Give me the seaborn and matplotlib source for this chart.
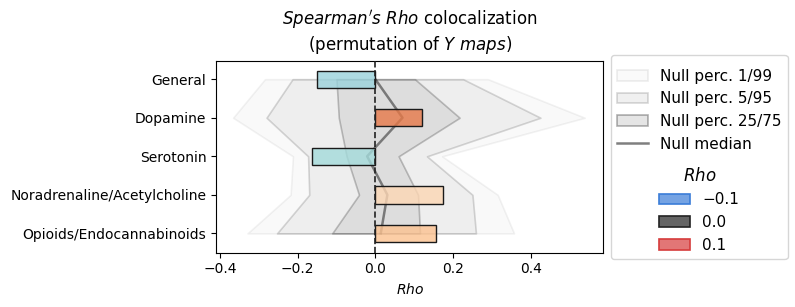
import matplotlib
matplotlib.use("Agg")
import matplotlib.pyplot as plt
from matplotlib.patches import Patch
from matplotlib.lines import Line2D
from matplotlib.legend import Legend
from matplotlib.offsetbox import VPacker, DrawingArea
import seaborn as sns
import numpy as np
import pandas as pd

categories = ["General", "Dopamine", "Serotonin",
              "Noradrenaline/Acetylcholine", "Opioids/Endocannabinoids"]
rho = [-0.150, 0.120, -0.163, 0.175, 0.156]
bar_colors = ["#9ad2db", "#e67848", "#a4dbdb", "#fdd7b4", "#fcc290"]

null_p01 = [-0.284, -0.366, -0.212, -0.218, -0.329]
null_p99 = [0.290, 0.539, 0.172, 0.315, 0.357]
null_p05 = [-0.213, -0.280, -0.173, -0.170, -0.253]
null_p95 = [0.226, 0.425, 0.133, 0.250, 0.259]
null_p25 = [-0.100, -0.094, -0.074, -0.042, -0.111]
null_p75 = [0.102, 0.217, 0.060, 0.110, 0.115]
null_median = [0.000, 0.070, -0.021, 0.031, 0.014]

legend_rho_values = [-0.1, 0.0, 0.1]
legend_rho_colors = ["#3b7dd8", "#222222", "#d63c3c"]

df = pd.DataFrame({"category": categories, "rho": rho})

fig = plt.figure(figsize=(7.95, 3.07), dpi=100)
ax = fig.add_axes([0.2717, 0.177, 0.759 - 0.2717, 0.801 - 0.177])

ypos = np.arange(len(categories))
bands = [
    (null_p01, null_p99, (0, 0, 0, 0.025), (0, 0, 0, 0.05)),
    (null_p05, null_p95, (0, 0, 0, 0.045), (0, 0, 0, 0.15)),
    (null_p25, null_p75, (0, 0, 0, 0.07), (0, 0, 0, 0.22)),
]
for lo, hi, fc, ec in bands:
    ax.fill_betweenx(ypos, lo, hi, facecolor=fc, edgecolor=ec, linewidth=1.2, zorder=1)
ax.plot(null_median, ypos, color=(0, 0, 0, 0.45), lw=1.8, zorder=2)

sns.barplot(data=df, x="rho", y="category", hue="category", palette=bar_colors,
            legend=False, orient="h", width=0.45, edgecolor="#1a1a1a",
            linewidth=1.0, saturation=1, ax=ax, zorder=3)
for p in ax.patches:
    fc = p.get_facecolor()
    p.set_alpha(None)
    p.set_facecolor((fc[0], fc[1], fc[2], 0.8))
    p.set_edgecolor("#1a1a1a")
    p.set_zorder(3)

ax.axvline(0, color="#222222", ls="--", lw=1.2, zorder=4)

ax.set_xlim(-0.41, 0.587)
ax.set_ylim(4.5, -0.47)
ax.set_xticks([-0.4, -0.2, 0.0, 0.2, 0.4])
ax.set_ylabel("")
ax.set_xlabel(r"$\it{Rho}$", fontsize=10)
ax.set_title("$\\it{Spearman's\\ Rho}$ colocalization\n(permutation of $\\it{Y\\ maps}$)",
             fontsize=12, pad=8)

h1 = [
    Patch(facecolor=(0, 0, 0, 0.02), edgecolor=(0, 0, 0, 0.07), lw=1.2),
    Patch(facecolor=(0, 0, 0, 0.06), edgecolor=(0, 0, 0, 0.15), lw=1.2),
    Patch(facecolor=(0, 0, 0, 0.10), edgecolor=(0, 0, 0, 0.30), lw=1.2),
    Line2D([], [], color=(0, 0, 0, 0.5), lw=1.8),
]
l1 = ["Null perc. 1/99", "Null perc. 5/95", "Null perc. 25/75", "Null median"]
leg1 = ax.legend(h1, l1, loc="center left", bbox_to_anchor=(1.0, 0.5), fontsize=11,
                 framealpha=0.8)

h2 = []
for c in legend_rho_colors:
    rgb = matplotlib.colors.to_rgb(c)
    h2.append(Patch(facecolor=(*rgb, 0.7), edgecolor=c, lw=1.2))
l2 = [f"{v:.1f}".replace("-", "\u2212") for v in legend_rho_values]
leg2 = Legend(ax, h2, l2, title=r"$\it{Rho}$", fontsize=11, title_fontsize=12,
              frameon=False)
sep = 0.5 * 11
inner = VPacker(pad=0, sep=sep, align="center",
                children=[leg2._legend_title_box, leg2._legend_handle_box])
kids = leg1._legend_box._children
kids.insert(0, DrawingArea(0, 0))
kids.append(DrawingArea(0, 0))
kids.append(inner)

fig.savefig("out.png", dpi=100)
